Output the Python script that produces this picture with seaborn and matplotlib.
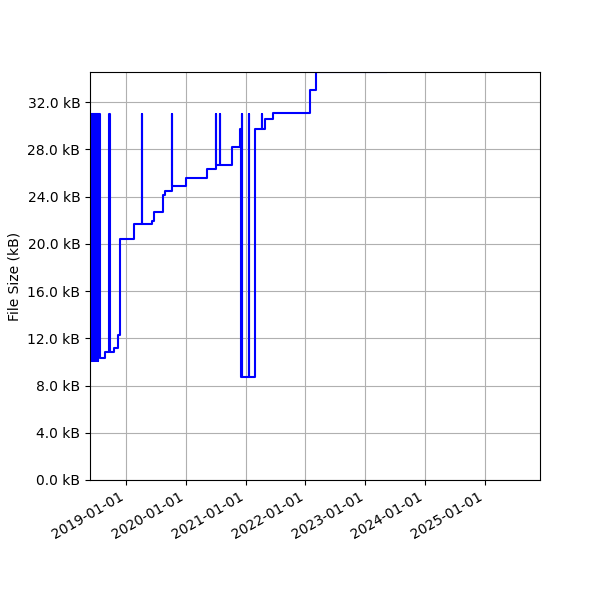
import numpy as np
import pandas as pd
import matplotlib
matplotlib.use("Agg")
import matplotlib.pyplot as plt
import matplotlib.dates as mdates
import matplotlib.ticker as mticker
import seaborn as sns

# commit dates and file sizes (kB)
dates = [
    "2018-06-02", "2018-06-05", "2018-06-08", "2018-06-11", "2018-06-14", "2018-06-17",
    "2018-06-20", "2018-06-23", "2018-06-26", "2018-06-29", "2018-07-02", "2018-07-05",
    "2018-07-08", "2018-07-11", "2018-07-14", "2018-07-17",
    "2018-07-29", "2018-08-28", "2018-09-23", "2018-09-24", "2018-10-23", "2018-11-16",
    "2018-11-25", "2019-02-22", "2019-04-08", "2019-04-09", "2019-06-08", "2019-06-22",
    "2019-08-18", "2019-08-28", "2019-10-12", "2019-10-13", "2020-01-03", "2020-05-08",
    "2020-07-04", "2020-07-05", "2020-07-26", "2020-07-27", "2020-10-07", "2020-11-29",
    "2020-12-03", "2020-12-11", "2020-12-12", "2021-01-21", "2021-01-22", "2021-02-26",
    "2021-04-12", "2021-04-13", "2021-05-02", "2021-06-14", "2022-01-27", "2022-03-04",
    "2023-05-11", "2025-08-01",
]
sizes_kb = [
    10.1, 31.0, 10.1, 31.0, 10.1, 31.0,
    10.1, 31.0, 10.1, 31.0, 10.1, 31.0,
    10.1, 31.0, 10.1, 31.0,
    10.35, 10.8, 31.0, 10.8, 11.2, 12.3,
    20.4, 21.7, 31.0, 21.7, 21.9, 22.7,
    24.1, 24.5, 31.0, 24.9, 25.6, 26.3,
    31.0, 26.7, 31.0, 26.7, 28.2, 29.7,
    8.7, 31.0, 8.7, 31.0, 8.7, 29.7,
    31.0, 29.7, 30.6, 31.05, 33.0, 34.52,
    36.0, 36.0,
]

df = pd.DataFrame({"date": pd.to_datetime(dates), "size": sizes_kb})

fig, ax = plt.subplots(figsize=(6, 6), dpi=100)
sns.lineplot(data=df, x="date", y="size", ax=ax, color="blue",
             drawstyle="steps-post", linewidth=1.5)

ax.set_xlim(pd.Timestamp("2018-05-28"), pd.Timestamp("2025-12-01"))
ax.set_ylim(0, 34.55)
ax.yaxis.set_major_locator(mticker.MultipleLocator(4))
ax.yaxis.set_major_formatter(mticker.FuncFormatter(lambda v, p: f"{v:.1f} kB"))
ax.xaxis.set_major_locator(mdates.YearLocator())
ax.xaxis.set_major_formatter(mdates.DateFormatter("%Y-%m-%d"))
ax.grid(True, color="#b0b0b0", linewidth=0.8)
ax.set_xlabel("")
ax.set_ylabel("File Size (kB)")
fig.autofmt_xdate()
fig.subplots_adjust(left=0.15, right=0.9, top=0.88, bottom=0.2)

plt.savefig("out.png")
